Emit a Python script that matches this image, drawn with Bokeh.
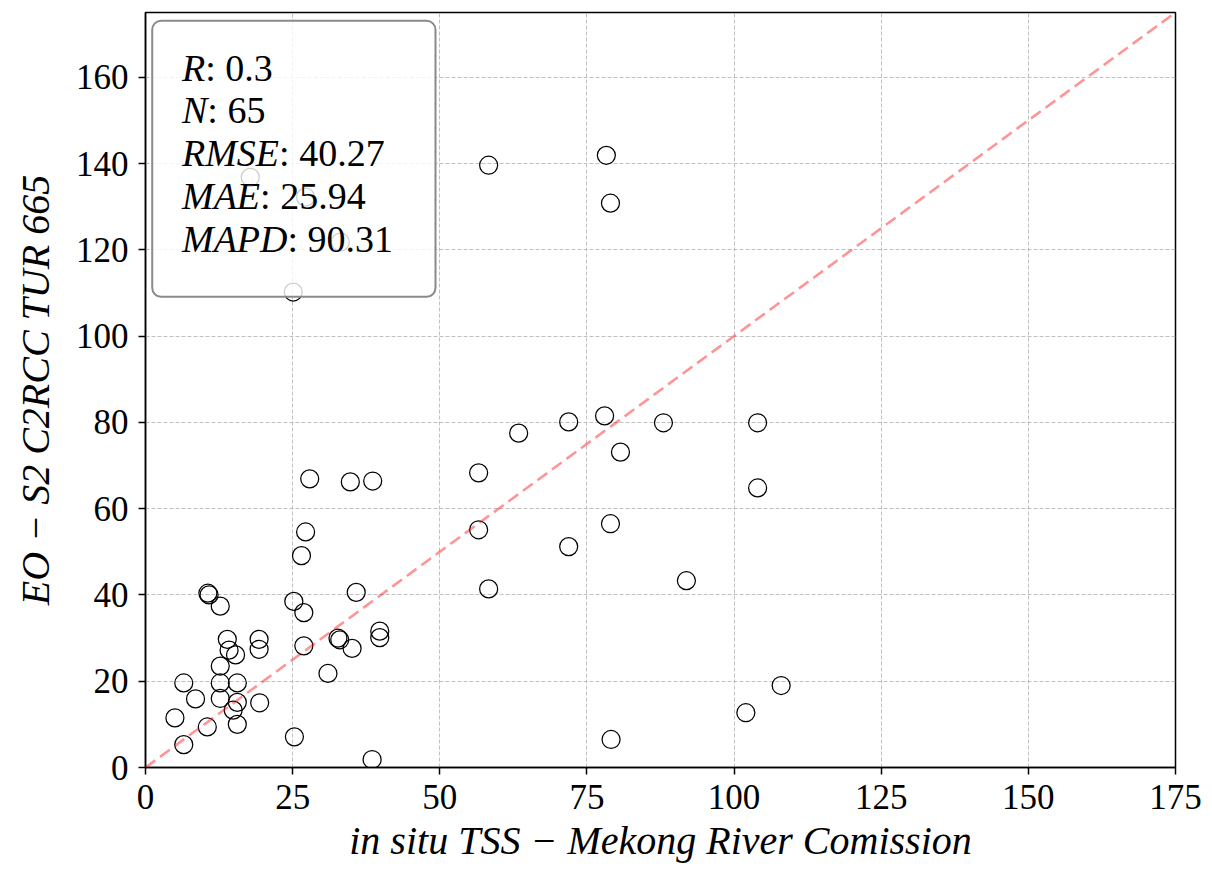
from bokeh.plotting import figure
from bokeh.models import Range1d, BoxAnnotation, Label, FixedTicker, Slope
from bokeh.embed import file_html
from bokeh.resources import INLINE

# in situ TSS (Mekong River Comission) vs EO S2 C2RCC TUR 665
tss = [58.3, 78.3, 79.0, 17.8, 27.2, 33.1, 25.1,
       63.4, 71.9, 78.0, 88.0, 104.0, 80.7, 56.6, 27.9, 34.8, 38.6, 104.0,
       56.6, 27.2, 79.0, 71.9, 26.5, 91.9, 58.3, 35.8, 10.6, 10.8, 12.7,
       25.2, 26.9, 39.8, 39.8, 32.7, 33.0, 35.1, 26.9, 13.9, 14.2, 15.3,
       19.3, 19.3, 31.0, 12.7, 6.5, 12.7, 15.6, 8.5, 12.7, 15.6, 14.9,
       19.4, 5.0, 10.5, 15.6, 6.5, 25.3, 38.5, 79.1, 102.0, 108.0]
eo = [139.6, 141.9, 130.8, 136.8, 132.2, 121.8, 110.2,
      77.5, 80.1, 81.5, 79.9, 79.9, 73.1, 68.3, 66.9, 66.2, 66.4, 64.8,
      55.1, 54.6, 56.5, 51.2, 49.1, 43.3, 41.4, 40.6, 40.4, 40.0, 37.4,
      38.5, 35.9, 31.6, 30.1, 30.0, 29.6, 27.6, 28.2, 29.7, 27.2, 26.1,
      29.7, 27.4, 21.8, 23.5, 19.6, 19.6, 19.6, 15.9, 16.0, 15.1, 13.3,
      15.0, 11.5, 9.4, 10.0, 5.3, 7.1, 1.85, 6.5, 12.7, 19.0]

x_ticks = [0, 25, 50, 75, 100, 125, 150, 175]
y_ticks = [0, 20, 40, 60, 80, 100, 120, 140, 160]

x_label = "in situ TSS \u2212 Mekong River Comission"
y_label = "EO \u2212 S2 C2RCC TUR 665"

stat_names = ["R", "N", "RMSE", "MAE", "MAPD"]
stat_values = [": 0.3", ": 65", ": 40.27", ": 25.94", ": 90.31"]
# Times italic advance widths (em) of the names, for placing the values
stat_name_em = [0.611, 0.667, 2.555, 2.055, 2.777]

FONT = "Liberation Serif"

p = figure(width=1204, height=865, output_backend="svg", toolbar_location=None,
           x_range=Range1d(0, 175), y_range=Range1d(0, 175),
           min_border_left=145, min_border_top=12, min_border_right=29,
           min_border_bottom=97)
p.background_fill_color = "white"
p.border_fill_color = "white"
p.outline_line_color = "black"
p.outline_line_width = 1.5

for ax, ticks in ((p.xaxis, x_ticks), (p.yaxis, y_ticks)):
    ax.ticker = FixedTicker(ticks=ticks)
    ax.major_label_text_font = FONT
    ax.major_label_text_font_size = "35px"
    ax.major_label_text_color = "black"
    ax.axis_line_color = "black"
    ax.axis_line_width = 1.5
    ax.major_tick_line_color = "black"
    ax.major_tick_line_width = 1.5
    ax.major_tick_in = 0
    ax.major_tick_out = 7
    ax.minor_tick_line_color = None
    ax.axis_label_text_font = FONT
    ax.axis_label_text_font_style = "italic"
    ax.axis_label_text_font_size = "40px"
    ax.axis_label_text_color = "black"

p.xaxis.major_label_standoff = 10
p.xaxis.axis_label = x_label
p.xaxis.axis_label_standoff = 6
p.yaxis.major_label_standoff = 10
p.yaxis.axis_label = y_label
p.yaxis.axis_label_standoff = 15

p.grid.grid_line_color = "#b0b0b0"
p.grid.grid_line_dash = "4 2"
p.grid.grid_line_width = 0.8
p.xgrid.ticker = FixedTicker(ticks=x_ticks)
p.ygrid.ticker = FixedTicker(ticks=y_ticks)

# 1:1 line
p.add_layout(Slope(gradient=1, y_intercept=0, line_color="red", line_alpha=0.42,
                   line_width=2.6, line_dash="12 6"))

p.scatter(tss, eo, marker="circle", size=18, fill_alpha=0,
          line_color="black", line_width=1.25)

# statistics box
p.add_layout(BoxAnnotation(left=1.14, right=49.27, bottom=109.1, top=173.1,
                           fill_color="white", fill_alpha=0.8,
                           line_color="#8a8a8a", line_width=2, line_alpha=1,
                           border_radius=9, level="annotation"))

fs = 38
baselines = [162.2, 152.4, 142.4, 132.4, 122.5]
for name, val, em, yb in zip(stat_names, stat_values, stat_name_em, baselines):
    p.add_layout(Label(x=6.2, y=yb, text=name, text_font=FONT,
                       text_font_style="italic", text_font_size=f"{fs}px",
                       text_baseline="alphabetic", text_color="black"))
    p.add_layout(Label(x=6.2, y=yb, x_offset=em * fs, text=val, text_font=FONT,
                       text_font_size=f"{fs}px", text_baseline="alphabetic",
                       text_color="black"))

open("out.html", "w").write(file_html(p, INLINE))
